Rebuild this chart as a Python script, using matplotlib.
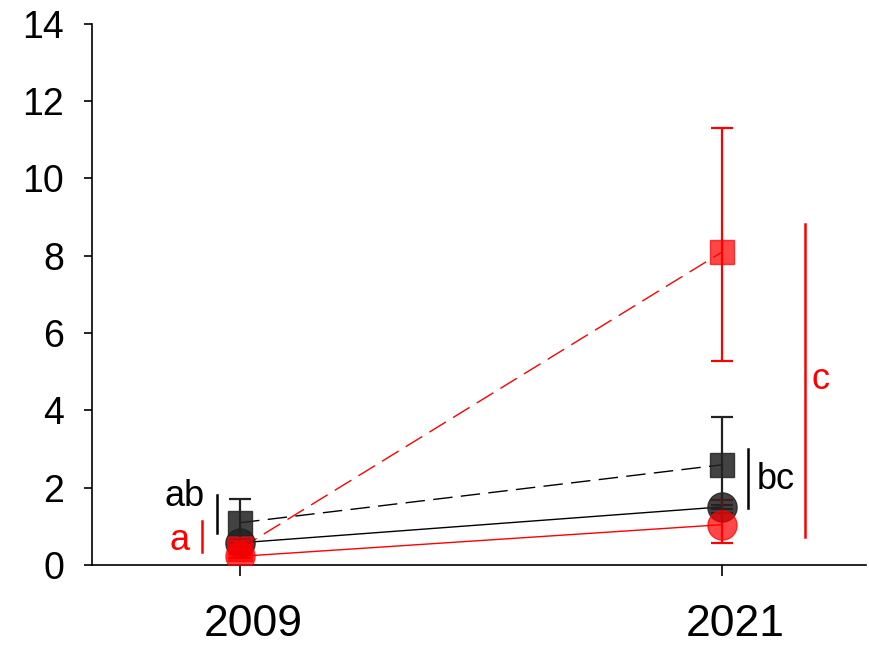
import numpy as np
import matplotlib
matplotlib.use('Agg')
import matplotlib.pyplot as plt
from matplotlib.transforms import ScaledTranslation

plt.rcParams['font.family'] = ['Liberation Sans', 'DejaVu Sans']

years = ['2009', '2021']
xpos = np.array([0, 1])

# four groups: mean and (lower, upper) error
red_sq = [0.42, 8.10]
red_sq_err = [[0.15, 2.82], [0.15, 3.21]]
blk_sq = [1.09, 2.59]
blk_sq_err = [[0.62, 1.24], [0.62, 1.24]]
blk_ci = [0.57, 1.50]
blk_ci_err = [[0.1, 0.05], [0.1, 0.05]]
red_ci = [0.22, 1.04]
red_ci_err = [[0.05, 0.47], [0.1, 0.64]]

# significance letters: text, x, y, line x, line y0, line y1, colour
letters = [('ab', -0.115, 1.76, -0.048, 0.83, 1.81, 'black'),
           ('a', -0.125, 0.62, -0.079, 0.34, 1.14, 'red'),
           ('bc', 1.11, 2.2, 1.054, 1.48, 3.0, 'black'),
           ('c', 1.203, 4.79, 1.172, 0.72, 8.83, 'red')]

fig = plt.figure(figsize=(8.69, 6.47), dpi=100)
ax = fig.add_axes([0.106, 0.127, 0.891, 0.836])

dash = (0, (14, 6))
ax.plot(xpos, red_sq, color='red', lw=1.0, ls=dash, zorder=2)
ax.plot(xpos, blk_sq, color='black', lw=1.0, ls=dash, zorder=2)
ax.plot(xpos, blk_ci, color='black', lw=1.0, zorder=2)
ax.plot(xpos, red_ci, color='red', lw=1.0, zorder=2)

def series(y, err, col, mk, ms, alpha, z):
    ax.errorbar(xpos, y, yerr=err, fmt='none', ecolor=col, elinewidth=1.6,
                capsize=8, capthick=1.6, zorder=3)
    ax.plot(xpos, y, ls='none', marker=mk, ms=ms, mfc=col, mec=col,
            alpha=alpha, zorder=z)

series(blk_sq, blk_sq_err, '#222222', 's', 17, 0.85, 4)
series(blk_ci, blk_ci_err, '#222222', 'o', 21, 0.85, 4.1)
series(red_sq, red_sq_err, 'red', 's', 17, 0.72, 4.2)
series(red_ci, red_ci_err, 'red', 'o', 21, 0.72, 4.3)

for txt, tx, ty, lx, ly0, ly1, col in letters:
    ax.text(tx, ty, txt, color=col, fontsize=26, ha='center', va='center')
    ax.plot([lx, lx], [ly0, ly1], color=col, lw=1.8, zorder=2)

ax.set_xlim(-0.307, 1.299)
ax.set_ylim(0, 14)
ax.set_yticks(np.arange(0, 15, 2))
ax.set_xticks(xpos)
ax.set_xticklabels(years)
ax.spines['top'].set_visible(False)
ax.spines['right'].set_visible(False)
ax.tick_params(axis='y', labelsize=27, length=6, width=1.2, pad=14)
ax.tick_params(axis='x', labelsize=32, length=8, width=1.2, pad=20)
ax.spines['left'].set_linewidth(1.2)
ax.spines['bottom'].set_linewidth(1.2)
for lab in ax.get_xticklabels():
    lab.set_transform(lab.get_transform() + ScaledTranslation(0.13, 0, fig.dpi_scale_trans))

fig.savefig('out.png', dpi=100)
